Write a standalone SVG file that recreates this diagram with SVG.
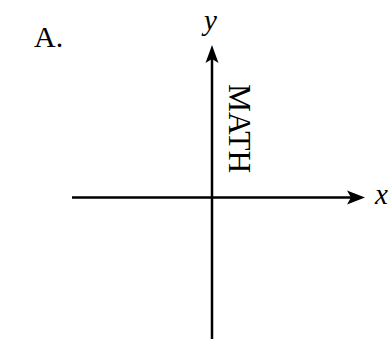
<svg xmlns="http://www.w3.org/2000/svg" width="391" height="339" viewBox="0 0 391 339">
<style>
.ax{stroke:#000;stroke-width:2.5;fill:none}
.ah{fill:#000;stroke:none}
.t{font-family:"Liberation Serif","Times New Roman",serif;fill:#000}
.i{font-style:italic}
</style>
<rect width="391" height="339" fill="#fff"/>
<g id="connectors">
<line class="ax" x1="72" y1="197.5" x2="356" y2="197.5"/>
<path class="ah" d="M365,197.5 L347,190.5 L351,197.5 L347,204.5 Z"/>
<line class="ax" x1="212" y1="339" x2="212" y2="54"/>
<path class="ah" d="M212,45 L205.5,63 L212,59 L218.5,63 Z"/>
</g>
<g id="label-A"><text class="t" x="34" y="47" font-size="30">A.</text></g>
<g id="label-y"><text class="t i" x="204" y="30" font-size="29">y</text></g>
<g id="label-x"><text class="t i" x="375" y="204" font-size="29">x</text></g>
<g id="label-math"><text class="t" font-size="31.5" transform="translate(229,84) rotate(90)">MATH</text></g>
</svg>
